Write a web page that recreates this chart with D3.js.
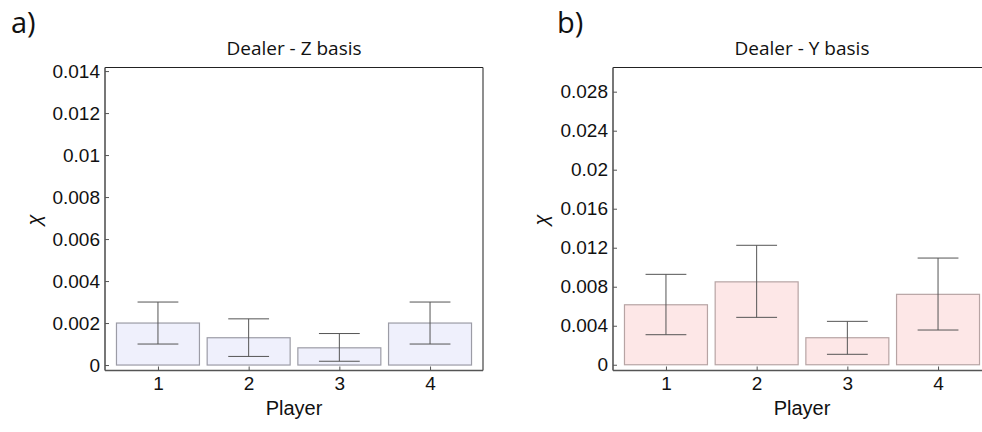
<!DOCTYPE html>
<html>
<head>
<meta charset="utf-8">
<script src="https://cdn.jsdelivr.net/npm/d3@7"></script>
<style>
  body { margin: 0; background: #fff; }
  svg { display: block; }
  .tick-label, .axis-title { font-family: "Liberation Sans", Arial, sans-serif; font-size: 19px; fill: #111; }
  .axis-title { font-size: 20px; }
  .panel-title { font-family: "Open Sans", sans-serif; font-size: 19px; fill: #111; }
  .panel-tag { font-family: "Open Sans", sans-serif; font-size: 29px; fill: #111; }
</style>
</head>
<body>
<svg id="main" width="982" height="432"></svg>
<script>
// players on the x axis
const players = [1, 2, 3, 4];

// panel a: Z basis
const zValues = [0.0020, 0.0013, 0.00082, 0.0020];
const zLower = [0.0010, 0.00041, 0.00018, 0.0010];
const zUpper = [0.0030, 0.0022, 0.0015, 0.0030];
const zTicks = [0, 0.002, 0.004, 0.006, 0.008, 0.010, 0.012, 0.014];

// panel b: Y basis
const yValues = [0.00615, 0.0085, 0.00277, 0.00722];
const yLower = [0.00308, 0.00486, 0.00107, 0.00356];
const yUpper = [0.00927, 0.01225, 0.00445, 0.01094];
const yTicks = [0, 0.004, 0.008, 0.012, 0.016, 0.020, 0.024, 0.028];

const svg = d3.select('#main');

function fmt(v) {
  return String(+v.toFixed(3));
}

function drawPanel(p) {
  const x = d3.scaleLinear().domain([0.416, 4.584]).range([p.left, p.left + 378]);
  const y = d3.scaleLinear().domain(p.yDomain).range([370.5, 67.5]);
  const g = svg.append('g');
  const halfBar = 0.4575;
  const halfCap = 0.225;

  // bars
  g.selectAll('rect.bar')
    .data(players)
    .enter().append('rect')
      .attr('class', 'bar')
      .attr('x', (d) => x(d - halfBar))
      .attr('width', (d) => x(d + halfBar) - x(d - halfBar))
      .attr('y', (d, i) => y(p.values[i]))
      .attr('height', (d, i) => y(0) - y(p.values[i]))
      .attr('fill', p.fill)
      .attr('stroke', p.stroke)
      .attr('stroke-width', 1.2);

  // error bars
  const err = g.selectAll('g.err')
    .data(players)
    .enter().append('g')
      .attr('class', 'err')
      .attr('stroke', '#555')
      .attr('stroke-width', 1);
  err.append('line')
    .attr('x1', (d) => x(d)).attr('x2', (d) => x(d))
    .attr('y1', (d, i) => y(p.lower[i])).attr('y2', (d, i) => y(p.upper[i]));
  err.append('line')
    .attr('x1', (d) => x(d - halfCap)).attr('x2', (d) => x(d + halfCap))
    .attr('y1', (d, i) => y(p.lower[i])).attr('y2', (d, i) => y(p.lower[i]));
  err.append('line')
    .attr('x1', (d) => x(d - halfCap)).attr('x2', (d) => x(d + halfCap))
    .attr('y1', (d, i) => y(p.upper[i])).attr('y2', (d, i) => y(p.upper[i]));

  // frame: top and right thin dark, left and bottom gray axes
  const [x0, x1] = x.range();
  const [yb, yt] = y.range();
  g.append('line').attr('x1', x0).attr('x2', x1).attr('y1', yt).attr('y2', yt)
    .attr('stroke', '#222').attr('stroke-width', 1.2);
  g.append('line').attr('x1', x1).attr('x2', x1).attr('y1', yt).attr('y2', yb)
    .attr('stroke', '#444').attr('stroke-width', 1.2);

  // y axis, ticks pointing inwards
  const yAxis = d3.axisRight(y).tickValues(p.ticks).tickSize(4).tickFormat(fmt);
  const ya = g.append('g').attr('transform', `translate(${x0},0)`).call(yAxis);
  ya.select('.domain').attr('d', `M0,${yt}V${yb}`).attr('stroke', '#555').attr('stroke-width', 1.6);
  ya.selectAll('.tick line').attr('stroke', '#555');
  ya.selectAll('.tick text')
    .attr('class', 'tick-label')
    .attr('x', -5)
    .attr('text-anchor', 'end')
    .attr('font-size', null).attr('font-family', null);

  // x axis, ticks pointing up
  const xAxis = d3.axisTop(x).tickValues(players).tickSize(4).tickFormat(d3.format('d'));
  const xa = g.append('g').attr('transform', `translate(0,${yb})`).call(xAxis);
  xa.select('.domain').attr('d', `M${x0},0H${x1}`).attr('stroke', '#555').attr('stroke-width', 1.6);
  xa.selectAll('.tick line').attr('stroke', '#555');
  xa.selectAll('.tick text')
    .attr('class', 'tick-label')
    .attr('y', 19)
    .attr('dy', null)
    .attr('font-size', null).attr('font-family', null);
  xa.attr('text-anchor', 'middle');

  // titles
  const cx = x(2.5);
  g.append('text').attr('class', 'panel-title')
    .attr('x', cx).attr('y', 55).attr('text-anchor', 'middle').text(p.title);
  g.append('text').attr('class', 'axis-title')
    .attr('x', cx).attr('y', 415).attr('text-anchor', 'middle').text('Player');
  g.append('text').attr('class', 'axis-title')
    .attr('transform', `translate(${p.chiX},220) rotate(-90)`)
    .attr('text-anchor', 'middle').attr('dy', '0.35em')
    .style('font-style', 'italic')
    .text('χ');
  g.append('text').attr('class', 'panel-tag')
    .attr('x', p.tagX).attr('y', 33).text(p.tag);
}

drawPanel({
  left: 105, yDomain: [-0.00026, 0.01417],
  values: zValues, lower: zLower, upper: zUpper, ticks: zTicks,
  fill: '#eff0fc', stroke: '#9c9ca6',
  title: 'Dealer - Z basis', tag: 'a)', tagX: 11, chiX: 34
});

drawPanel({
  left: 613, yDomain: [-0.00059, 0.03048],
  values: yValues, lower: yLower, upper: yUpper, ticks: yTicks,
  fill: '#fde7e7', stroke: '#b7a4a4',
  title: 'Dealer - Y basis', tag: 'b)', tagX: 557, chiX: 541
});
</script>
</body>
</html>
